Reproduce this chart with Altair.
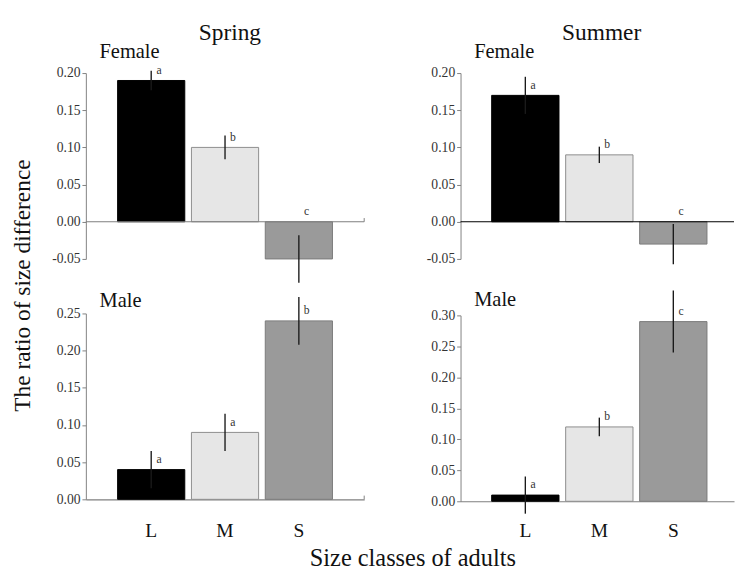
import altair as alt
import pandas as pd

# ---- data ----
classes = ["L", "M", "S"]

spring_female = [0.19, 0.10, -0.05]
spring_female_err = [0.013, 0.016, 0.032]
spring_female_sig = ["a", "b", "c"]

spring_male = [0.04, 0.09, 0.24]
spring_male_err = [0.025, 0.025, 0.032]
spring_male_sig = ["a", "a", "b"]

summer_female = [0.17, 0.09, -0.03]
summer_female_err = [0.025, 0.011, 0.027]
summer_female_sig = ["a", "b", "c"]

summer_male = [0.01, 0.12, 0.29]
summer_male_err = [0.03, 0.015, 0.05]
summer_male_sig = ["a", "b", "c"]

female_ticks = [-0.05, 0.0, 0.05, 0.10, 0.15, 0.20]
spring_male_ticks = [0.0, 0.05, 0.10, 0.15, 0.20, 0.25]
summer_male_ticks = [0.0, 0.05, 0.10, 0.15, 0.20, 0.25, 0.30]

fill_colors = ["#000000", "#e6e6e6", "#9a9a9a"]
stroke_colors = ["#000000", "#8c8c8c", "#7a7a7a"]

FONT = "Liberation Serif"
AXIS_GRAY = "#7f7f7f"


def panel(values, errs, sigs, domain, ticks, width, height, label,
          show_x, zero_color, end_tick, title_offset, band, xpad=22):
    df = pd.DataFrame({"cls": classes, "value": values, "err": errs, "sig": sigs})
    zdf = pd.DataFrame({"z": [0.0], "zt": [0.005 * (domain[1] - domain[0]) / 0.25]})

    if show_x:
        xaxis = alt.Axis(title=None, labelAngle=0, ticks=False, labelFont=FONT,
                         labelFontSize=20, labelColor="#111", labelPadding=xpad,
                         domainColor=AXIS_GRAY, domainWidth=1.2)
    else:
        xaxis = None
    x = alt.X("cls:N", sort=classes, axis=xaxis, title=None, scale=band)
    yscale = alt.Scale(domain=domain, nice=False, zero=False)
    yaxis = alt.Axis(title=None, values=ticks, format=".2f",
                     labelExpr="replace(datum.label, '\u2212', '-')",
                     grid=False, tickSize=4, tickColor=AXIS_GRAY,
                     domainColor=AXIS_GRAY, labelFont=FONT, labelFontSize=14,
                     labelColor="#333", labelPadding=2, labelOverlap=False,
                     minExtent=32, maxExtent=32)

    bars = alt.Chart(df).mark_bar(strokeWidth=1).encode(
        x=x,
        y=alt.Y("value:Q", scale=yscale, axis=yaxis, title=None),
        y2=alt.datum(0),
        fill=alt.Fill("cls:N", scale=alt.Scale(domain=classes, range=fill_colors), legend=None),
        stroke=alt.Stroke("cls:N", scale=alt.Scale(domain=classes, range=stroke_colors), legend=None),
    )
    err = alt.Chart(df).transform_calculate(
        lo="datum.value - datum.err", hi="datum.value + datum.err"
    ).mark_rule(color="#1a1a1a", strokeWidth=1.4).encode(
        x=x, y=alt.Y("lo:Q", scale=yscale, axis=yaxis, title=None), y2="hi:Q"
    )
    sig = alt.Chart(df).transform_calculate(
        ly="max(datum.value, 0)"
    ).mark_text(dx=8, dy=-11, fontSize=12, font=FONT, color="#333").encode(
        x=x, y=alt.Y("ly:Q", scale=yscale, axis=yaxis, title=None), text="sig:N"
    )
    layers = [bars, err, sig]
    if not show_x:
        zero = alt.Chart(zdf).mark_rule(color=zero_color, strokeWidth=1.2).encode(
            y=alt.Y("z:Q", scale=yscale, axis=yaxis, title=None),
            x=alt.value(0), x2=alt.value(width)
        )
        layers.append(zero)
    if end_tick:
        tick = alt.Chart(zdf).mark_rule(color=AXIS_GRAY, strokeWidth=1).encode(
            x=alt.value(width), y=alt.Y("z:Q", scale=yscale, axis=yaxis, title=None), y2="zt:Q"
        )
        layers.append(tick)
    return alt.layer(*layers).properties(
        width=width, height=height,
        title=alt.TitleParams(label, anchor="start", frame="group", dx=14,
                              font=FONT, fontSize=21, fontWeight="normal",
                              color="#111", offset=title_offset),
    )


W1, W2, H = 286, 281, 191
spring_band = alt.Scale(paddingInner=0.09, paddingOuter=0.43)
summer_band = alt.Scale(paddingInner=0.09, paddingOuter=0.393, align=0.535)

sf = panel(spring_female, spring_female_err, spring_female_sig, [-0.05, 0.20],
           female_ticks, W1, H, "Female", False, AXIS_GRAY, True, 2, spring_band)
sm = panel(spring_male, spring_male_err, spring_male_sig, [0.0, 0.25],
           spring_male_ticks, W1, H, "Male", True, AXIS_GRAY, True, -15, spring_band, 22)
uf = panel(summer_female, summer_female_err, summer_female_sig, [-0.05, 0.20],
           female_ticks, W2, H, "Female", False, "#000000", False, 4, summer_band)
um = panel(summer_male, summer_male_err, summer_male_sig, [0.0, 0.30],
           summer_male_ticks, W2, H, "Male", True, AXIS_GRAY, False, -21, summer_band, 20)

col_title = dict(anchor="start", frame="group", align="center", font=FONT,
                 fontSize=24, fontWeight="normal", color="#111", offset=-3)

spring = alt.vconcat(sf, sm, spacing=56, bounds="flush",
                     title=alt.TitleParams("Spring", dx=148, **col_title))
summer = alt.vconcat(uf, um, spacing=58, bounds="flush",
                     title=alt.TitleParams("Summer", dx=145, **col_title))

body = alt.hconcat(spring, summer, spacing=62,
                   title=alt.TitleParams("The ratio of size difference", orient="left",
                                         anchor="middle", font=FONT, fontSize=24,
                                         fontWeight="normal", color="#111", offset=17,
                                         dx=-5))

chart = alt.vconcat(body,
                    title=alt.TitleParams("Size classes of adults", orient="bottom",
                                          anchor="start", frame="group", align="center",
                                          dx=336, font=FONT, fontSize=25,
                                          fontWeight="normal", color="#111", offset=7)
                    ).properties(padding={"left": 3, "top": 5, "right": 0, "bottom": 0}
                    ).configure_view(stroke=None
                    ).configure_axis(labelFont=FONT
                    ).configure_title(font=FONT, fontWeight="normal"
                    ).configure_text(font=FONT)

chart.save("out.html", embed_options={"renderer": "svg", "actions": False})
